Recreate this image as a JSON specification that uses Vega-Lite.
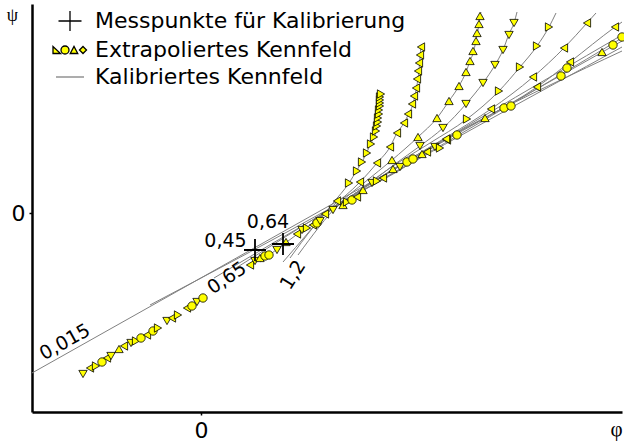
{
  "$schema": "https://vega.github.io/schema/vega-lite/v6.json",
  "width": 590,
  "height": 408,
  "autosize": {"type": "none"},
  "padding": {"left": 32, "top": 4, "right": 2, "bottom": 33},
  "background": "white",
  "config": {
    "view": {"stroke": null},
    "font": "DejaVu Sans",
    "axis": {
      "grid": false,
      "domainColor": "#000000",
      "domainWidth": 2.5,
      "tickColor": "#000000",
      "tickSize": 3,
      "tickWidth": 1.5,
      "labelFont": "DejaVu Sans",
      "labelFontSize": 22,
      "labelColor": "#000000",
      "titleFont": "Liberation Serif",
      "titleFontWeight": "normal",
      "titleColor": "#000000"
    }
  },
  "datasets": {
    "kalibriert": [
      {"kurve": "B1", "phi": -1.69, "psi": -1.60}, {"kurve": "B1", "phi": 4.21, "psi": 1.72},
      {"kurve": "B2", "phi": -0.51, "psi": -0.92}, {"kurve": "B2", "phi": 1.37, "psi": 0.09}, {"kurve": "B2", "phi": 4.21, "psi": 1.75},
      {"kurve": "B3", "phi": 0.13, "psi": -0.65}, {"kurve": "B3", "phi": 1.37, "psi": 0.08}, {"kurve": "B3", "phi": 4.21, "psi": 1.66},
      {"kurve": "B4", "phi": 0.35, "psi": -0.55}, {"kurve": "B4", "phi": 1.37, "psi": 0.09}, {"kurve": "B4", "phi": 4.21, "psi": 1.78},
      {"kurve": "B5", "phi": 0.59, "psi": -0.49}, {"kurve": "B5", "phi": 1.37, "psi": 0.08}, {"kurve": "B5", "phi": 4.21, "psi": 1.62},
      {"kurve": "C1", "phi": 0.82, "psi": -0.49}, {"kurve": "C1", "phi": 1.32, "psi": 0.10}, {"kurve": "C1", "phi": 1.48, "psi": 0.30}, {"kurve": "C1", "phi": 1.56, "psi": 0.43}, {"kurve": "C1", "phi": 1.61, "psi": 0.51}, {"kurve": "C1", "phi": 1.66, "psi": 0.61}, {"kurve": "C1", "phi": 1.70, "psi": 0.70}, {"kurve": "C1", "phi": 1.74, "psi": 0.78}, {"kurve": "C1", "phi": 1.76, "psi": 0.86}, {"kurve": "C1", "phi": 1.78, "psi": 0.96}, {"kurve": "C1", "phi": 1.79, "psi": 1.08}, {"kurve": "C1", "phi": 1.80, "psi": 1.21},
      {"kurve": "C2", "phi": 0.89, "psi": -0.45}, {"kurve": "C2", "phi": 1.35, "psi": 0.10}, {"kurve": "C2", "phi": 1.44, "psi": 0.17}, {"kurve": "C2", "phi": 1.59, "psi": 0.31}, {"kurve": "C2", "phi": 1.76, "psi": 0.50}, {"kurve": "C2", "phi": 1.89, "psi": 0.66}, {"kurve": "C2", "phi": 1.96, "psi": 0.80}, {"kurve": "C2", "phi": 2.03, "psi": 0.90}, {"kurve": "C2", "phi": 2.08, "psi": 1.00}, {"kurve": "C2", "phi": 2.12, "psi": 1.09}, {"kurve": "C2", "phi": 2.14, "psi": 1.18}, {"kurve": "C2", "phi": 2.16, "psi": 1.28}, {"kurve": "C2", "phi": 2.18, "psi": 1.43}, {"kurve": "C2", "phi": 2.19, "psi": 1.55}, {"kurve": "C2", "phi": 2.20, "psi": 1.68},
      {"kurve": "C3", "phi": 0.97, "psi": -0.42}, {"kurve": "C3", "phi": 1.39, "psi": 0.10}, {"kurve": "C3", "phi": 1.64, "psi": 0.31}, {"kurve": "C3", "phi": 1.91, "psi": 0.53}, {"kurve": "C3", "phi": 2.17, "psi": 0.76}, {"kurve": "C3", "phi": 2.36, "psi": 0.95}, {"kurve": "C3", "phi": 2.48, "psi": 1.12}, {"kurve": "C3", "phi": 2.58, "psi": 1.27}, {"kurve": "C3", "phi": 2.65, "psi": 1.41}, {"kurve": "C3", "phi": 2.69, "psi": 1.52}, {"kurve": "C3", "phi": 2.73, "psi": 1.63}, {"kurve": "C3", "phi": 2.75, "psi": 1.73}, {"kurve": "C3", "phi": 2.77, "psi": 1.83}, {"kurve": "C3", "phi": 2.79, "psi": 1.97}, {"kurve": "C3", "phi": 2.80, "psi": 2.01},
      {"kurve": "C4", "phi": 1.17, "psi": -0.05}, {"kurve": "C4", "phi": 1.41, "psi": 0.10}, {"kurve": "C4", "phi": 1.69, "psi": 0.30}, {"kurve": "C4", "phi": 1.94, "psi": 0.49}, {"kurve": "C4", "phi": 2.19, "psi": 0.67}, {"kurve": "C4", "phi": 2.42, "psi": 0.85}, {"kurve": "C4", "phi": 2.65, "psi": 1.09}, {"kurve": "C4", "phi": 2.82, "psi": 1.30}, {"kurve": "C4", "phi": 2.94, "psi": 1.48}, {"kurve": "C4", "phi": 3.02, "psi": 1.63}, {"kurve": "C4", "phi": 3.08, "psi": 1.79}, {"kurve": "C4", "phi": 3.13, "psi": 1.90}, {"kurve": "C4", "phi": 3.16, "psi": 2.01},
      {"kurve": "C5", "phi": 1.15, "psi": -0.07}, {"kurve": "C5", "phi": 1.41, "psi": 0.10}, {"kurve": "C5", "phi": 1.89, "psi": 0.45}, {"kurve": "C5", "phi": 2.29, "psi": 0.70}, {"kurve": "C5", "phi": 2.66, "psi": 0.94}, {"kurve": "C5", "phi": 2.98, "psi": 1.22}, {"kurve": "C5", "phi": 3.19, "psi": 1.46}, {"kurve": "C5", "phi": 3.36, "psi": 1.67}, {"kurve": "C5", "phi": 3.48, "psi": 1.86}, {"kurve": "C5", "phi": 3.55, "psi": 2.00},
      {"kurve": "C6", "phi": 1.13, "psi": -0.08}, {"kurve": "C6", "phi": 1.41, "psi": 0.11}, {"kurve": "C6", "phi": 1.99, "psi": 0.48}, {"kurve": "C6", "phi": 2.49, "psi": 0.78}, {"kurve": "C6", "phi": 2.90, "psi": 1.04}, {"kurve": "C6", "phi": 3.32, "psi": 1.36}, {"kurve": "C6", "phi": 3.63, "psi": 1.65}, {"kurve": "C6", "phi": 3.86, "psi": 1.90}, {"kurve": "C6", "phi": 3.95, "psi": 2.00},
      {"kurve": "C7", "phi": 1.11, "psi": -0.09}, {"kurve": "C7", "phi": 1.41, "psi": 0.11}, {"kurve": "C7", "phi": 1.99, "psi": 0.43}, {"kurve": "C7", "phi": 2.45, "psi": 0.74}, {"kurve": "C7", "phi": 2.84, "psi": 0.95}, {"kurve": "C7", "phi": 3.36, "psi": 1.26}, {"kurve": "C7", "phi": 3.69, "psi": 1.51}, {"kurve": "C7", "phi": 4.14, "psi": 1.86}, {"kurve": "C7", "phi": 4.21, "psi": 1.91}
    ],
    "extrapoliert": [
      {"kurve": "B3", "phi": -1.18, "psi": -1.61}, {"kurve": "B2", "phi": -1.11, "psi": -1.55}, {"kurve": "B4", "phi": -1.05, "psi": -1.53}, {"kurve": "B1", "phi": -0.99, "psi": -1.49}, {"kurve": "B2", "phi": -0.94, "psi": -1.45}, {"kurve": "B3", "phi": -0.90, "psi": -1.43}, {"kurve": "B5", "phi": -0.82, "psi": -1.36}, {"kurve": "B2", "phi": -0.77, "psi": -1.33}, {"kurve": "B3", "phi": -0.70, "psi": -1.30}, {"kurve": "B4", "phi": -0.65, "psi": -1.28}, {"kurve": "B1", "phi": -0.60, "psi": -1.25}, {"kurve": "B2", "phi": -0.54, "psi": -1.22}, {"kurve": "B1", "phi": -0.48, "psi": -1.18}, {"kurve": "B4", "phi": -0.43, "psi": -1.15}, {"kurve": "B3", "phi": -0.34, "psi": -1.08}, {"kurve": "B2", "phi": -0.29, "psi": -1.05}, {"kurve": "B4", "phi": -0.23, "psi": -1.02}, {"kurve": "B2", "phi": -0.14, "psi": -0.95}, {"kurve": "B1", "phi": -0.09, "psi": -0.93}, {"kurve": "B3", "phi": -0.04, "psi": -0.89}, {"kurve": "B1", "phi": 0.02, "psi": -0.85},
      {"kurve": "B2", "phi": 0.49, "psi": -0.52}, {"kurve": "B3", "phi": 0.54, "psi": -0.48}, {"kurve": "B5", "phi": 0.59, "psi": -0.45}, {"kurve": "B1", "phi": 0.64, "psi": -0.43}, {"kurve": "B1", "phi": 0.68, "psi": -0.42}, {"kurve": "B3", "phi": 0.76, "psi": -0.37}, {"kurve": "B5", "phi": 0.85, "psi": -0.29}, {"kurve": "B2", "phi": 0.96, "psi": -0.21}, {"kurve": "B3", "phi": 1.01, "psi": -0.17}, {"kurve": "B4", "phi": 1.06, "psi": -0.15}, {"kurve": "B2", "phi": 1.12, "psi": -0.12}, {"kurve": "B1", "phi": 1.16, "psi": -0.10}, {"kurve": "B3", "phi": 1.19, "psi": -0.08}, {"kurve": "B2", "phi": 1.24, "psi": -0.01}, {"kurve": "B3", "phi": 1.32, "psi": 0.03}, {"kurve": "B2", "phi": 1.36, "psi": 0.12}, {"kurve": "B5", "phi": 1.42, "psi": 0.08}, {"kurve": "B4", "phi": 1.46, "psi": 0.11}, {"kurve": "B1", "phi": 1.51, "psi": 0.13}, {"kurve": "B2", "phi": 1.56, "psi": 0.16}, {"kurve": "B5", "phi": 1.62, "psi": 0.23}, {"kurve": "B3", "phi": 1.71, "psi": 0.30}, {"kurve": "B4", "phi": 1.76, "psi": 0.32}, {"kurve": "B2", "phi": 1.82, "psi": 0.35}, {"kurve": "B5", "phi": 1.92, "psi": 0.44}, {"kurve": "B3", "phi": 1.99, "psi": 0.46}, {"kurve": "B1", "phi": 2.06, "psi": 0.51}, {"kurve": "B1", "phi": 2.12, "psi": 0.54}, {"kurve": "B5", "phi": 2.21, "psi": 0.59}, {"kurve": "B2", "phi": 2.26, "psi": 0.61}, {"kurve": "B3", "phi": 2.34, "psi": 0.66}, {"kurve": "B4", "phi": 2.39, "psi": 0.65}, {"kurve": "B2", "phi": 2.46, "psi": 0.73}, {"kurve": "B1", "phi": 2.56, "psi": 0.78}, {"kurve": "B5", "phi": 2.84, "psi": 0.95}, {"kurve": "B1", "phi": 3.03, "psi": 1.05}, {"kurve": "B1", "phi": 3.10, "psi": 1.07}, {"kurve": "B1", "phi": 3.60, "psi": 1.37}, {"kurve": "B1", "phi": 3.66, "psi": 1.45}, {"kurve": "B5", "phi": 4.01, "psi": 1.61}, {"kurve": "B1", "phi": 4.12, "psi": 1.68}, {"kurve": "B1", "phi": 4.21, "psi": 1.76},
      {"kurve": "C1", "phi": 1.48, "psi": 0.30}, {"kurve": "C1", "phi": 1.56, "psi": 0.42}, {"kurve": "C1", "phi": 1.61, "psi": 0.51}, {"kurve": "C1", "phi": 1.66, "psi": 0.60}, {"kurve": "C1", "phi": 1.70, "psi": 0.69}, {"kurve": "C1", "phi": 1.73, "psi": 0.76}, {"kurve": "C1", "phi": 1.75, "psi": 0.82}, {"kurve": "C1", "phi": 1.76, "psi": 0.87}, {"kurve": "C1", "phi": 1.77, "psi": 0.91}, {"kurve": "C1", "phi": 1.77, "psi": 0.95}, {"kurve": "C1", "phi": 1.78, "psi": 0.99}, {"kurve": "C1", "phi": 1.78, "psi": 1.03}, {"kurve": "C1", "phi": 1.79, "psi": 1.07}, {"kurve": "C1", "phi": 1.79, "psi": 1.10}, {"kurve": "C1", "phi": 1.79, "psi": 1.13}, {"kurve": "C1", "phi": 1.79, "psi": 1.16}, {"kurve": "C1", "phi": 1.80, "psi": 1.19},
      {"kurve": "C2", "phi": 1.59, "psi": 0.31}, {"kurve": "C2", "phi": 1.76, "psi": 0.50}, {"kurve": "C2", "phi": 1.89, "psi": 0.66}, {"kurve": "C2", "phi": 1.96, "psi": 0.80}, {"kurve": "C2", "phi": 2.03, "psi": 0.90}, {"kurve": "C2", "phi": 2.07, "psi": 0.99}, {"kurve": "C2", "phi": 2.11, "psi": 1.09}, {"kurve": "C2", "phi": 2.13, "psi": 1.17}, {"kurve": "C2", "phi": 2.15, "psi": 1.25}, {"kurve": "C2", "phi": 2.16, "psi": 1.34}, {"kurve": "C2", "phi": 2.17, "psi": 1.42}, {"kurve": "C2", "phi": 2.18, "psi": 1.50}, {"kurve": "C2", "phi": 2.19, "psi": 1.58}, {"kurve": "C2", "phi": 2.20, "psi": 1.66},
      {"kurve": "C3", "phi": 1.91, "psi": 0.53}, {"kurve": "C3", "phi": 2.17, "psi": 0.76}, {"kurve": "C3", "phi": 2.36, "psi": 0.95}, {"kurve": "C3", "phi": 2.48, "psi": 1.12}, {"kurve": "C3", "phi": 2.58, "psi": 1.27}, {"kurve": "C3", "phi": 2.65, "psi": 1.41}, {"kurve": "C3", "phi": 2.69, "psi": 1.52}, {"kurve": "C3", "phi": 2.72, "psi": 1.62}, {"kurve": "C3", "phi": 2.75, "psi": 1.72}, {"kurve": "C3", "phi": 2.76, "psi": 1.80}, {"kurve": "C3", "phi": 2.78, "psi": 1.89}, {"kurve": "C3", "phi": 2.79, "psi": 1.97},
      {"kurve": "C4", "phi": 2.19, "psi": 0.67}, {"kurve": "C4", "phi": 2.42, "psi": 0.85}, {"kurve": "C4", "phi": 2.65, "psi": 1.09}, {"kurve": "C4", "phi": 2.82, "psi": 1.30}, {"kurve": "C4", "phi": 2.94, "psi": 1.48}, {"kurve": "C4", "phi": 3.02, "psi": 1.63}, {"kurve": "C4", "phi": 3.08, "psi": 1.78}, {"kurve": "C4", "phi": 3.13, "psi": 1.90},
      {"kurve": "C5", "phi": 2.66, "psi": 0.94}, {"kurve": "C5", "phi": 2.98, "psi": 1.22}, {"kurve": "C5", "phi": 3.19, "psi": 1.46}, {"kurve": "C5", "phi": 3.36, "psi": 1.67}, {"kurve": "C5", "phi": 3.48, "psi": 1.86},
      {"kurve": "C6", "phi": 2.90, "psi": 1.04}, {"kurve": "C6", "phi": 3.32, "psi": 1.36}, {"kurve": "C6", "phi": 3.63, "psi": 1.65}, {"kurve": "C6", "phi": 3.86, "psi": 1.90},
      {"kurve": "C7", "phi": 2.45, "psi": 0.74}, {"kurve": "C7", "phi": 3.36, "psi": 1.26}, {"kurve": "C7", "phi": 3.69, "psi": 1.51}, {"kurve": "C7", "phi": 4.14, "psi": 1.86}
    ],
    "messpunkte": [
      {"punkt": "0,45", "phi": 0.54, "psi": -0.37},
      {"punkt": "0,64", "phi": 0.82, "psi": -0.31}
    ],
    "beschriftung": [
      {"text": "0,015", "phi": -1.36, "psi": -1.29},
      {"text": "0,65", "phi": 0.26, "psi": -0.65},
      {"text": "1,2", "phi": 0.92, "psi": -0.62},
      {"text": "0,45", "phi": 0.245, "psi": -0.275},
      {"text": "0,64", "phi": 0.67, "psi": -0.09}
    ]
  },
  "layer": [
    {
      "mark": {"type": "rule", "color": "#62B7CB", "strokeWidth": 1.2},
      "encoding": {"y": {"datum": 0, "type": "quantitative"}}
    },
    {
      "mark": {"type": "rule", "color": "#62B7CB", "strokeWidth": 1.2},
      "encoding": {
        "x": {"datum": 0, "type": "quantitative"},
        "y": {"datum": 1.16, "type": "quantitative"},
        "y2": {"datum": -1.99}
      }
    },
    {
      "data": {"name": "kalibriert"},
      "mark": {"type": "line", "strokeWidth": 1, "interpolate": "monotone"},
      "encoding": {
        "x": {
          "field": "phi", "type": "quantitative",
          "scale": {"domain": [-1.69, 4.21], "nice": false, "zero": false},
          "axis": {"values": [0], "format": "d", "title": "φ", "titleFontSize": 21, "titleX": 584, "titleY": 23, "titleAlign": "center", "titleBaseline": "alphabetic", "labelPadding": 5, "labelFlush": false}
        },
        "y": {
          "field": "psi", "type": "quantitative",
          "scale": {"domain": [-1.99, 2.09], "nice": false, "zero": false},
          "axis": {"values": [0], "format": "d", "title": "ψ", "titleFontSize": 18, "titleAngle": 0, "titleX": -20, "titleY": 16, "titleAlign": "center", "titleBaseline": "alphabetic", "labelPadding": 4, "labelFlush": false}
        },
        "detail": {"field": "kurve"},
        "stroke": {
          "datum": "Kalibriertes Kennfeld", "type": "nominal",
          "scale": {
            "domain": ["Messpunkte für Kalibrierung", "Extrapoliertes Kennfeld", "Kalibriertes Kennfeld"],
            "range": ["#000000", "#000000", "#808080"]
          },
          "legend": {
            "orient": "none", "legendX": 27, "legendY": 6, "title": null, "padding": 0,
            "labelFont": "DejaVu Sans", "labelFontSize": 22, "labelColor": "#000000", "labelLimit": 0,
            "labelOffset": 14, "rowPadding": 5, "symbolSize": 100, "symbolStrokeWidth": 1.3, "symbolOffset": 0,
            "encode": {
              "symbols": {
                "update": {
                  "shape": {"signal": "datum.value === 'Messpunkte für Kalibrierung' ? 'M-2.3,0H2.3M0,-2V2' : (datum.value === 'Extrapoliertes Kennfeld' ? 'M-3.4,0.7L-1.9,0.7L-3.4,-0.7ZM-1.8,0A0.8,0.8 0 1,0 -0.2,0A0.8,0.8 0 1,0 -1.8,0ZM0.05,0.7L1.55,0.7L0.8,-0.7ZM2.6,-0.7L3.3,0L2.6,0.7L1.9,0Z' : 'M-2.8,0H2.8')"},
                  "fill": {"signal": "datum.value === 'Extrapoliertes Kennfeld' ? '#ffff00' : 'transparent'"},
                  "opacity": {"value": 1}
                }
              }
            }
          }
        }
      }
    },
    {
      "data": {"name": "extrapoliert"},
      "mark": {"type": "point", "filled": true, "fill": "#ffff00", "strokeWidth": 0.8, "size": 70, "opacity": 1},
      "encoding": {
        "x": {"field": "phi", "type": "quantitative"},
        "y": {"field": "psi", "type": "quantitative"},
        "shape": {
          "field": "kurve", "type": "nominal", "legend": null,
          "scale": {
            "domain": ["B1", "B2", "B3", "B4", "B5", "C1", "C2", "C3", "C4", "C5", "C6", "C7"],
            "range": ["circle", "triangle-left", "triangle-down", "triangle-right", "triangle-up", "triangle-right", "triangle-left", "triangle-up", "triangle-down", "triangle-right", "triangle-left", "triangle-left"]
          }
        },
        "stroke": {"datum": "Extrapoliertes Kennfeld", "type": "nominal"}
      }
    },
    {
      "data": {"name": "messpunkte"},
      "mark": {"type": "point", "shape": "M-1,0H1M0,-1V1", "size": 484, "strokeWidth": 1.8, "filled": false, "opacity": 1},
      "encoding": {
        "x": {"field": "phi", "type": "quantitative"},
        "y": {"field": "psi", "type": "quantitative"},
        "stroke": {"datum": "Messpunkte für Kalibrierung", "type": "nominal"}
      }
    },
    {
      "data": {"name": "beschriftung"},
      "transform": [{"filter": "datum.text === '0,015'"}],
      "mark": {"type": "text", "font": "DejaVu Sans", "fontSize": 19, "angle": -29, "align": "center", "baseline": "middle", "color": "#000000"},
      "encoding": {"x": {"field": "phi", "type": "quantitative"}, "y": {"field": "psi", "type": "quantitative"}, "text": {"field": "text"}}
    },
    {
      "data": {"name": "beschriftung"},
      "transform": [{"filter": "datum.text === '0,65'"}],
      "mark": {"type": "text", "font": "DejaVu Sans", "fontSize": 19, "angle": -34, "align": "center", "baseline": "middle", "color": "#000000"},
      "encoding": {"x": {"field": "phi", "type": "quantitative"}, "y": {"field": "psi", "type": "quantitative"}, "text": {"field": "text"}}
    },
    {
      "data": {"name": "beschriftung"},
      "transform": [{"filter": "datum.text === '1,2'"}],
      "mark": {"type": "text", "font": "DejaVu Sans", "fontSize": 19, "angle": -58, "align": "center", "baseline": "middle", "color": "#000000"},
      "encoding": {"x": {"field": "phi", "type": "quantitative"}, "y": {"field": "psi", "type": "quantitative"}, "text": {"field": "text"}}
    },
    {
      "data": {"name": "beschriftung"},
      "transform": [{"filter": "datum.text === '0,45' || datum.text === '0,64'"}],
      "mark": {"type": "text", "font": "DejaVu Sans", "fontSize": 19, "align": "center", "baseline": "middle", "color": "#000000"},
      "encoding": {"x": {"field": "phi", "type": "quantitative"}, "y": {"field": "psi", "type": "quantitative"}, "text": {"field": "text"}}
    }
  ]
}
